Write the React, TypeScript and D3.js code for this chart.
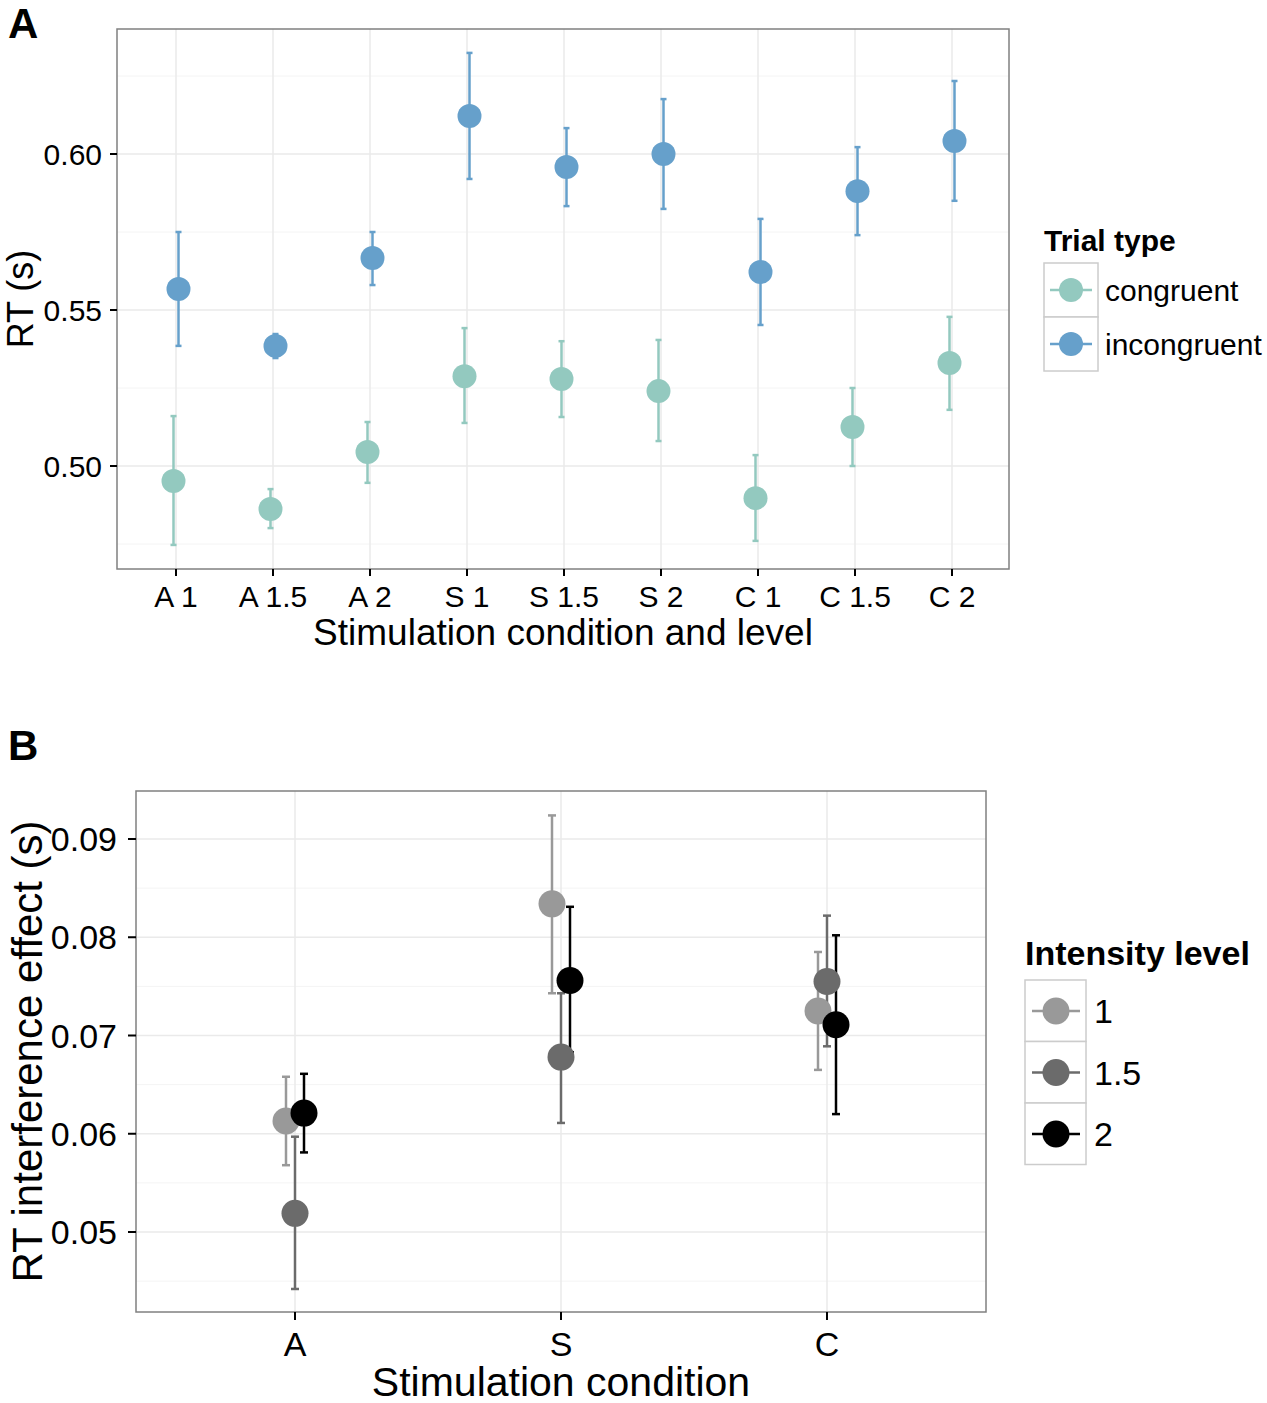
import { useEffect, useRef } from "react";
import * as d3 from "d3";

// Panel A data
const levelsA = ["A 1", "A 1.5", "A 2", "S 1", "S 1.5", "S 2", "C 1", "C 1.5", "C 2"];
const trialTypes = ["congruent", "incongruent"];
const congruentMean = [0.4952, 0.4862, 0.5045, 0.5288, 0.5279, 0.524, 0.4897, 0.5125, 0.533];
const congruentLo = [0.4747, 0.4801, 0.4946, 0.5138, 0.5157, 0.508, 0.476, 0.5, 0.518];
const congruentHi = [0.516, 0.4926, 0.5141, 0.5442, 0.54, 0.5404, 0.5035, 0.525, 0.5478];
const incongruentMean = [0.5567, 0.5385, 0.5667, 0.6122, 0.5958, 0.6, 0.5622, 0.5881, 0.6042];
const incongruentLo = [0.5385, 0.5346, 0.558, 0.592, 0.5833, 0.5824, 0.5452, 0.574, 0.585];
const incongruentHi = [0.575, 0.5423, 0.575, 0.6324, 0.6083, 0.6176, 0.5792, 0.6022, 0.6234];
const ticksA = [0.5, 0.55, 0.6];
const minorA = [0.475, 0.525, 0.575, 0.625];

// Panel B data
const conditionsB = ["A", "S", "C"];
const intensities = ["1", "1.5", "2"];
const effectMean = [
  [0.0613, 0.0834, 0.0725], // level 1
  [0.0519, 0.0678, 0.0755], // level 1.5
  [0.0621, 0.0756, 0.0711], // level 2
];
const effectLo = [
  [0.0568, 0.0743, 0.0665],
  [0.0442, 0.0611, 0.0689],
  [0.0581, 0.0683, 0.062],
];
const effectHi = [
  [0.0658, 0.0924, 0.0785],
  [0.0597, 0.0743, 0.0822],
  [0.0661, 0.0831, 0.0802],
];
const ticksB = [0.05, 0.06, 0.07, 0.08, 0.09];
const minorB = [0.045, 0.055, 0.065, 0.075, 0.085];

const trialColors = ["#93C9BF", "#66A0CB"];
const intensityColors = ["#999999", "#6B6B6B", "#000000"];
const FONT = "Liberation Sans, Arial, Helvetica, sans-serif";

const App = () => {
  const svgRef = useRef(null);

  useEffect(() => {
    const svg = d3.select(svgRef.current);
    svg.selectAll("*").remove();

    svg.append("rect").attr("width", 1267).attr("height", 1403).attr("fill", "#fff");

    // ---------- Panel A ----------
    const a = { left: 117, right: 1009, top: 29, bottom: 569 };
    const xA = d3.scalePoint().domain(levelsA).range([176, 952]);
    const yA = d3.scaleLinear().domain([0.6, 0.5]).range([154, 466]);
    const gA = svg.append("g");

    gA.selectAll(".minor")
      .data(minorA)
      .enter()
      .append("line")
      .attr("x1", a.left)
      .attr("x2", a.right)
      .attr("y1", (d) => yA(d))
      .attr("y2", (d) => yA(d))
      .attr("stroke", "#F4F4F4")
      .attr("stroke-width", 1);
    gA.selectAll(".major")
      .data(ticksA)
      .enter()
      .append("line")
      .attr("x1", a.left)
      .attr("x2", a.right)
      .attr("y1", (d) => yA(d))
      .attr("y2", (d) => yA(d))
      .attr("stroke", "#EAEAEA")
      .attr("stroke-width", 1.5);
    gA.selectAll(".vgrid")
      .data(levelsA)
      .enter()
      .append("line")
      .attr("x1", (d) => xA(d))
      .attr("x2", (d) => xA(d))
      .attr("y1", a.top)
      .attr("y2", a.bottom)
      .attr("stroke", "#EAEAEA")
      .attr("stroke-width", 1.5);

    const seriesA = [
      { mean: congruentMean, lo: congruentLo, hi: congruentHi, dx: -2.5 },
      { mean: incongruentMean, lo: incongruentLo, hi: incongruentHi, dx: 2.5 },
    ];
    seriesA.forEach((s, si) => {
      const col = trialColors[si];
      levelsA.forEach((lv, i) => {
        const cx = xA(lv) + s.dx;
        gA.append("line")
          .attr("x1", cx).attr("x2", cx)
          .attr("y1", yA(s.lo[i])).attr("y2", yA(s.hi[i]))
          .attr("stroke", col).attr("stroke-width", 2.5);
        [s.lo[i], s.hi[i]].forEach((v) => {
          gA.append("line")
            .attr("x1", cx - 3).attr("x2", cx + 3)
            .attr("y1", yA(v)).attr("y2", yA(v))
            .attr("stroke", col).attr("stroke-width", 2.5);
        });
        gA.append("circle")
          .attr("cx", cx).attr("cy", yA(s.mean[i]))
          .attr("r", 12).attr("fill", col);
      });
    });

    gA.append("rect")
      .attr("x", a.left).attr("y", a.top)
      .attr("width", a.right - a.left).attr("height", a.bottom - a.top)
      .attr("fill", "none").attr("stroke", "#808080").attr("stroke-width", 1.5);

    // axes A
    ticksA.forEach((t) => {
      gA.append("line")
        .attr("x1", a.left - 7).attr("x2", a.left)
        .attr("y1", yA(t)).attr("y2", yA(t))
        .attr("stroke", "#000").attr("stroke-width", 2);
      gA.append("text")
        .attr("x", a.left - 15).attr("y", yA(t) + 11)
        .attr("text-anchor", "end")
        .attr("font-family", FONT).attr("font-size", 30)
        .text(t.toFixed(2));
    });
    levelsA.forEach((lv) => {
      gA.append("line")
        .attr("x1", xA(lv)).attr("x2", xA(lv))
        .attr("y1", a.bottom).attr("y2", a.bottom + 7)
        .attr("stroke", "#000").attr("stroke-width", 2);
      gA.append("text")
        .attr("x", xA(lv)).attr("y", 607)
        .attr("text-anchor", "middle")
        .attr("font-family", FONT).attr("font-size", 30)
        .text(lv);
    });
    gA.append("text")
      .attr("x", (a.left + a.right) / 2).attr("y", 645)
      .attr("text-anchor", "middle")
      .attr("font-family", FONT).attr("font-size", 37)
      .text("Stimulation condition and level");
    gA.append("text")
      .attr("transform", `translate(33,${(a.top + a.bottom) / 2}) rotate(-90)`)
      .attr("text-anchor", "middle")
      .attr("font-family", FONT).attr("font-size", 36)
      .text("RT (s)");
    gA.append("text")
      .attr("x", 8).attr("y", 38)
      .attr("font-family", FONT).attr("font-size", 42).attr("font-weight", "bold")
      .text("A");

    // legend A
    gA.append("text")
      .attr("x", 1044).attr("y", 251)
      .attr("font-family", FONT).attr("font-size", 30).attr("font-weight", "bold")
      .text("Trial type");
    trialTypes.forEach((t, i) => {
      const y0 = 263 + i * 54;
      gA.append("rect")
        .attr("x", 1044).attr("y", y0).attr("width", 54).attr("height", 54)
        .attr("fill", "#fff").attr("stroke", "#CCCCCC").attr("stroke-width", 1.5);
      gA.append("line")
        .attr("x1", 1050).attr("x2", 1092)
        .attr("y1", y0 + 27).attr("y2", y0 + 27)
        .attr("stroke", trialColors[i]).attr("stroke-width", 2.5);
      gA.append("circle")
        .attr("cx", 1071).attr("cy", y0 + 27).attr("r", 12).attr("fill", trialColors[i]);
      gA.append("text")
        .attr("x", 1105).attr("y", y0 + 38)
        .attr("font-family", FONT).attr("font-size", 30)
        .text(t);
    });

    // ---------- Panel B ----------
    const b = { left: 136, right: 986, top: 791, bottom: 1312 };
    const xB = d3.scalePoint().domain(conditionsB).range([295, 827]);
    const yB = d3.scaleLinear().domain([0.09, 0.05]).range([839, 1232]);
    const dodge = d3.scalePoint().domain(intensities).range([-9, 9]);
    const gB = svg.append("g");

    gB.selectAll(".minor")
      .data(minorB)
      .enter()
      .append("line")
      .attr("x1", b.left).attr("x2", b.right)
      .attr("y1", (d) => yB(d)).attr("y2", (d) => yB(d))
      .attr("stroke", "#F4F4F4").attr("stroke-width", 1);
    gB.selectAll(".major")
      .data(ticksB)
      .enter()
      .append("line")
      .attr("x1", b.left).attr("x2", b.right)
      .attr("y1", (d) => yB(d)).attr("y2", (d) => yB(d))
      .attr("stroke", "#EAEAEA").attr("stroke-width", 1.5);
    gB.selectAll(".vgrid")
      .data(conditionsB)
      .enter()
      .append("line")
      .attr("x1", (d) => xB(d)).attr("x2", (d) => xB(d))
      .attr("y1", b.top).attr("y2", b.bottom)
      .attr("stroke", "#EAEAEA").attr("stroke-width", 1.5);

    intensities.forEach((lev, li) => {
      const col = intensityColors[li];
      conditionsB.forEach((c, ci) => {
        const cx = xB(c) + dodge(lev);
        gB.append("line")
          .attr("x1", cx).attr("x2", cx)
          .attr("y1", yB(effectLo[li][ci])).attr("y2", yB(effectHi[li][ci]))
          .attr("stroke", col).attr("stroke-width", 2.5);
        [effectLo[li][ci], effectHi[li][ci]].forEach((v) => {
          gB.append("line")
            .attr("x1", cx - 4).attr("x2", cx + 4)
            .attr("y1", yB(v)).attr("y2", yB(v))
            .attr("stroke", col).attr("stroke-width", 2.5);
        });
      });
    });
    intensities.forEach((lev, li) => {
      conditionsB.forEach((c, ci) => {
        gB.append("circle")
          .attr("cx", xB(c) + dodge(lev)).attr("cy", yB(effectMean[li][ci]))
          .attr("r", 13.5).attr("fill", intensityColors[li]);
      });
    });

    gB.append("rect")
      .attr("x", b.left).attr("y", b.top)
      .attr("width", b.right - b.left).attr("height", b.bottom - b.top)
      .attr("fill", "none").attr("stroke", "#808080").attr("stroke-width", 1.5);

    ticksB.forEach((t) => {
      gB.append("line")
        .attr("x1", b.left - 8).attr("x2", b.left)
        .attr("y1", yB(t)).attr("y2", yB(t))
        .attr("stroke", "#000").attr("stroke-width", 2);
      gB.append("text")
        .attr("x", b.left - 19).attr("y", yB(t) + 12)
        .attr("text-anchor", "end")
        .attr("font-family", FONT).attr("font-size", 34)
        .text(t.toFixed(2));
    });
    conditionsB.forEach((c) => {
      gB.append("line")
        .attr("x1", xB(c)).attr("x2", xB(c))
        .attr("y1", b.bottom).attr("y2", b.bottom + 8)
        .attr("stroke", "#000").attr("stroke-width", 2);
      gB.append("text")
        .attr("x", xB(c)).attr("y", 1356)
        .attr("text-anchor", "middle")
        .attr("font-family", FONT).attr("font-size", 34)
        .text(c);
    });
    gB.append("text")
      .attr("x", (b.left + b.right) / 2).attr("y", 1396)
      .attr("text-anchor", "middle")
      .attr("font-family", FONT).attr("font-size", 41)
      .text("Stimulation condition");
    gB.append("text")
      .attr("transform", `translate(42,${(b.top + b.bottom) / 2}) rotate(-90)`)
      .attr("text-anchor", "middle")
      .attr("font-family", FONT).attr("font-size", 42)
      .text("RT interference effect (s)");
    gB.append("text")
      .attr("x", 8).attr("y", 760)
      .attr("font-family", FONT).attr("font-size", 42).attr("font-weight", "bold")
      .text("B");

    // legend B
    gB.append("text")
      .attr("x", 1025).attr("y", 965)
      .attr("font-family", FONT).attr("font-size", 34).attr("font-weight", "bold")
      .text("Intensity level");
    intensities.forEach((lev, i) => {
      const y0 = 980 + i * 61.5;
      gB.append("rect")
        .attr("x", 1025).attr("y", y0).attr("width", 61).attr("height", 61.5)
        .attr("fill", "#fff").attr("stroke", "#CCCCCC").attr("stroke-width", 1.5);
      gB.append("line")
        .attr("x1", 1032).attr("x2", 1080)
        .attr("y1", y0 + 31).attr("y2", y0 + 31)
        .attr("stroke", intensityColors[i]).attr("stroke-width", 2.5);
      gB.append("circle")
        .attr("cx", 1056).attr("cy", y0 + 31).attr("r", 13.5).attr("fill", intensityColors[i]);
      gB.append("text")
        .attr("x", 1094).attr("y", y0 + 43)
        .attr("font-family", FONT).attr("font-size", 34)
        .text(lev);
    });
  }, []);

  return (
    <div style={{ position: "absolute", left: 0, top: 0 }}>
      <svg ref={svgRef} width={1267} height={1403} style={{ display: "block" }}></svg>
    </div>
  );
};

export default App;
